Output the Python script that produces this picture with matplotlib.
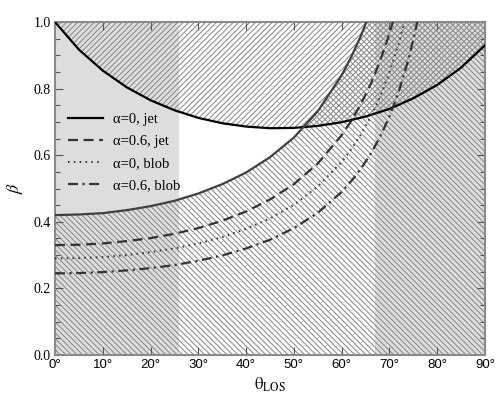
import matplotlib
matplotlib.use('Agg')
import matplotlib.pyplot as plt
import numpy as np
from matplotlib.ticker import MultipleLocator

plt.rcParams['mathtext.fontset'] = 'stix'
plt.rcParams['hatch.linewidth'] = 0.75
plt.rcParams['hatch.color'] = '#8a8a8a'

# ---- data ----
theta_top = [0, 5, 10, 15, 20, 25, 30, 35, 40, 45, 50, 55, 60, 65, 70, 75, 80, 85, 90]
beta_top = [1.000, 0.917, 0.854, 0.804, 0.765, 0.735, 0.712, 0.696, 0.686, 0.681,
            0.682, 0.688, 0.699, 0.716, 0.739, 0.771, 0.811, 0.863, 0.930]

theta_gray = [0, 5, 10, 15, 20, 25, 30, 35, 40, 45, 50, 55, 60, 62, 64, 65, 66]
beta_gray = [0.420, 0.422, 0.426, 0.435, 0.447, 0.463, 0.485, 0.513, 0.548, 0.594,
             0.653, 0.732, 0.840, 0.895, 0.958, 0.994, 1.033]

theta_jet06 = [0, 5, 10, 15, 20, 25, 30, 35, 40, 45, 50, 55, 60, 62, 64, 66, 68, 70, 71]
beta_jet06 = [0.330, 0.331, 0.335, 0.342, 0.351, 0.364, 0.381, 0.403, 0.431, 0.467,
              0.513, 0.575, 0.660, 0.703, 0.753, 0.811, 0.881, 0.965, 1.014]

theta_blob0 = [0, 5, 10, 15, 20, 25, 30, 35, 40, 45, 50, 55, 60, 62, 64, 66, 68, 70, 72, 73, 74]
beta_blob0 = [0.290, 0.291, 0.294, 0.300, 0.309, 0.320, 0.335, 0.354, 0.379, 0.410,
              0.451, 0.506, 0.580, 0.618, 0.662, 0.713, 0.774, 0.848, 0.938, 0.992, 1.052]

theta_blob06 = [0, 5, 10, 15, 20, 25, 30, 35, 40, 45, 50, 55, 60, 62, 64, 66, 68, 70, 72, 74, 75, 76]
beta_blob06 = [0.245, 0.246, 0.249, 0.254, 0.261, 0.270, 0.283, 0.299, 0.320, 0.346,
               0.381, 0.427, 0.490, 0.522, 0.559, 0.602, 0.654, 0.716, 0.793, 0.889, 0.947, 1.013]

band_left = (0, 26)
band_right = (67, 90)

legend_labels = ['α=0, jet', 'α=0.6, jet', 'α=0, blob', 'α=0.6, blob']
xtick_vals = [0, 10, 20, 30, 40, 50, 60, 70, 80, 90]
ytick_vals = [0.0, 0.2, 0.4, 0.6, 0.8, 1.0]

# ---- figure ----
fig = plt.figure(figsize=(5, 4), dpi=100)
ax = fig.add_axes([0.11, 0.1125, 0.86, 0.8325])

ax.axvspan(*band_left, color='#dddddd', lw=0, zorder=0)
ax.axvspan(*band_right, color='#dddddd', lw=0, zorder=0)

# "//" hatch above the top curve
ax.fill_between(theta_top, beta_top, 1.0, facecolor='none', edgecolor='#8a8a8a',
                hatch='//////', lw=0, zorder=1)
# "\\" hatch below the gray curve (and everywhere beyond where it leaves the plot)
xg = list(theta_gray) + [90]
yg = list(np.minimum(beta_gray, 1.0)) + [1.0]
ax.fill_between(xg, 0, yg, facecolor='none', edgecolor='#8a8a8a',
                hatch='\\' * 6, lw=0, zorder=1)

l1, = ax.plot(theta_top, beta_top, color='black', lw=1.6, zorder=5)
ax.plot(theta_gray, beta_gray, color='#404040', lw=1.6, zorder=5)
l2, = ax.plot(theta_jet06, beta_jet06, color='#333333', lw=1.6, dashes=(4.5, 2.5), zorder=5)
l3, = ax.plot(theta_blob0, beta_blob0, color='#333333', lw=1.4, dashes=(0.8, 2.2), zorder=5)
l4, = ax.plot(theta_blob06, beta_blob06, color='#333333', lw=1.6, dashes=(4.5, 2, 1, 2), zorder=5)

ax.set_xlim(0, 90)
ax.set_ylim(0, 1.0)

ax.set_xticks(xtick_vals)
ax.set_xticklabels([f'{v}°' for v in xtick_vals], family='Liberation Sans', fontsize=9.5)
ax.set_yticks(ytick_vals)
ax.set_yticklabels([f'{v:.1f}' for v in ytick_vals], family='Liberation Serif', fontsize=10)
ax.yaxis.set_minor_locator(MultipleLocator(0.05))
ax.tick_params(which='both', direction='in', top=True, right=True, color='#555555', width=0.8)
ax.tick_params(which='major', length=6, pad=3)
ax.tick_params(which='minor', length=3.5)

for s in ax.spines.values():
    s.set_color('#8a8a8a')
    s.set_linewidth(1.5)

ax.set_xlabel(r'$\mathrm{\theta_{LOS}}$', fontsize=12, labelpad=3)
ax.set_ylabel(r'$\beta$', fontsize=13, labelpad=6)

leg = ax.legend([l1, l2, l3, l4], legend_labels, loc='upper left',
                bbox_to_anchor=(0.03, 0.728), frameon=False, borderpad=0, borderaxespad=0,
                handlelength=2.4, handletextpad=0.7, labelspacing=0.62,
                prop={'family': 'Liberation Serif', 'size': 10.5})

fig.savefig('out.png', dpi=100)
